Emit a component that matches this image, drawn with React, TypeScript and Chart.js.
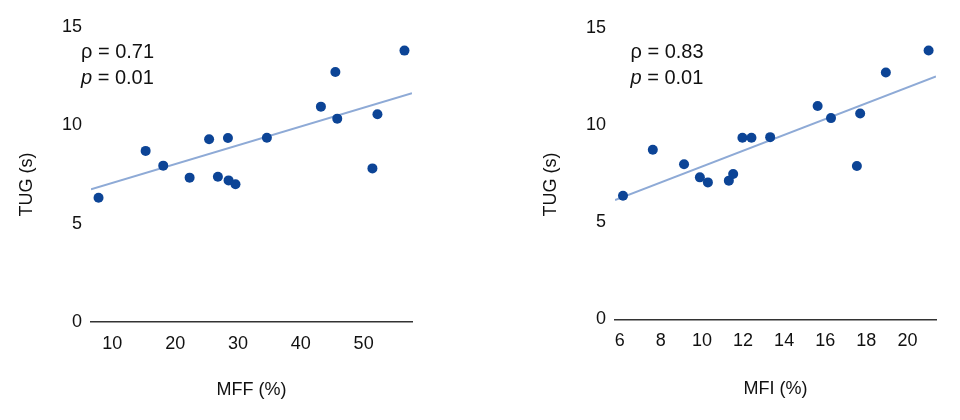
import { useEffect, useRef } from 'react'
import { Chart, registerables } from 'chart.js'

Chart.register(...registerables)

const FONT = "'Liberation Sans', Arial, sans-serif"
const DOT = '#0c4496'
const FIT = '#8eaad6'
const INK = '#111111'

// shared y axis
const TUG_TICKS = [0, 5, 10, 15]
const Y_TITLE = 'TUG (s)'

// left panel: MFF
const MFF = [7.8, 15.3, 18.1, 22.3, 25.4, 26.8, 28.4, 28.5, 29.6, 34.6, 43.2, 45.5, 45.8, 51.4, 52.2, 56.5]
const TUG_MFF = [6.32, 8.7, 7.95, 7.34, 9.29, 7.39, 9.36, 7.2, 7.0, 9.37, 10.95, 12.71, 10.34, 7.81, 10.56, 13.8]
const MFF_FIT_X = [6.6, 57.7]
const MFF_FIT_Y = [6.75, 11.63]
const MFF_TICKS = [10, 20, 30, 40, 50]

// right panel: MFI
const MFI = [6.16, 7.61, 9.13, 9.9, 10.29, 11.31, 11.52, 11.97, 12.41, 13.32, 15.63, 16.28, 17.54, 17.7, 18.95, 21.03]
const TUG_MFI = [6.36, 8.73, 7.98, 7.31, 7.05, 7.14, 7.48, 9.35, 9.35, 9.38, 10.98, 10.36, 7.89, 10.6, 12.71, 13.84]
const MFI_FIT_X = [5.77, 21.39]
const MFI_FIT_Y = [6.14, 12.5]
const MFI_TICKS = [6, 8, 10, 12, 14, 16, 18, 20]

// draws the rho / p annotation and the rotated y title
const statsPlugin = {
  id: 'stats',
  afterDraw(chart: any, _args: any, opts: any) {
    const ctx = chart.ctx
    ctx.save()
    ctx.fillStyle = INK
    ctx.textBaseline = 'alphabetic'
    ctx.textAlign = 'left'
    ctx.font = `20px ${FONT}`
    ctx.fillText(`ρ = ${opts.rho}`, opts.x, opts.y1)
    ctx.font = `italic 20px ${FONT}`
    ctx.fillText('p', opts.x, opts.y2)
    const w = ctx.measureText('p').width
    ctx.font = `20px ${FONT}`
    ctx.fillText(` = ${opts.p}`, opts.x + w, opts.y2)

    // y axis title, sits a bit below the middle of the plot
    ctx.translate(27, 184.5)
    ctx.rotate(-Math.PI / 2)
    ctx.textAlign = 'center'
    ctx.textBaseline = 'middle'
    ctx.font = `18px ${FONT}`
    ctx.fillText(Y_TITLE, 0, 0)
    ctx.restore()
  },
}

interface PanelProps {
  xs: number[]
  ys: number[]
  fitX: number[]
  fitY: number[]
  xTicks: number[]
  xMin: number
  xMax: number
  xTitle: string
  rho: string
  p: string
  left: number
  top: number
  xAxisHeight: number
  titlePad: number
  statsX: number
}

function ScatterPanel(props: PanelProps) {
  const chartRef = useRef<HTMLCanvasElement>(null)
  const chartInstance = useRef<Chart | null>(null)

  useEffect(() => {
    if (!chartRef.current) return
    if (chartInstance.current) chartInstance.current.destroy()

    const tickFont = { family: FONT, size: 18 }
    const titleFont = { family: FONT, size: 18 }

    chartInstance.current = new Chart(chartRef.current, {
      type: 'scatter',
      data: {
        datasets: [
          {
            data: props.xs.map((x, i) => ({ x, y: props.ys[i] })),
            backgroundColor: DOT,
            borderWidth: 0,
            pointRadius: 5,
            order: 1,
          },
          {
            data: props.fitX.map((x, i) => ({ x, y: props.fitY[i] })),
            showLine: true,
            borderColor: FIT,
            borderWidth: 2,
            pointRadius: 0,
            order: 2,
          },
        ],
      },
      options: {
        animation: false,
        responsive: true,
        maintainAspectRatio: false,
        layout: { padding: { top: props.top, right: 24, left: 0, bottom: 0 } },
        plugins: {
          legend: { display: false },
          tooltip: { enabled: false },
          // @ts-ignore
          stats: { rho: props.rho, p: props.p, x: props.statsX, y1: 58, y2: 84 },
        },
        scales: {
          x: {
            type: 'linear',
            min: props.xMin,
            max: props.xMax,
            afterBuildTicks: (axis: any) => {
              axis.ticks = props.xTicks.map(value => ({ value }))
            },
            afterFit: (axis: any) => {
              axis.height = props.xAxisHeight
            },
            grid: { display: false, drawTicks: false },
            border: { display: true, color: '#333333', width: 1.5 },
            ticks: { padding: 11, color: INK, font: tickFont, maxRotation: 0 },
            title: {
              display: true,
              text: props.xTitle,
              color: INK,
              font: titleFont,
              padding: { top: 0, bottom: props.titlePad },
            },
          },
          y: {
            type: 'linear',
            min: 0,
            max: 15,
            afterBuildTicks: (axis: any) => {
              axis.ticks = TUG_TICKS.map(value => ({ value }))
            },
            afterFit: (axis: any) => {
              axis.width = 91
            },
            grid: { display: false, drawTicks: false },
            border: { display: false },
            ticks: { padding: 9, color: INK, font: tickFont },
            title: { display: false },
          },
        },
      },
      plugins: [statsPlugin],
    })

    return () => {
      if (chartInstance.current) {
        chartInstance.current.destroy()
        chartInstance.current = null
      }
    }
  }, [])

  return (
    <div style={{ position: 'fixed', left: props.left, top: 0, width: 436, height: 420 }}>
      <canvas ref={chartRef} />
    </div>
  )
}

export default function App() {
  return (
    <div style={{ position: 'fixed', inset: 0, width: 960, height: 420, background: '#ffffff' }}>
      <ScatterPanel
        xs={MFF}
        ys={TUG_MFF}
        fitX={MFF_FIT_X}
        fitY={MFF_FIT_Y}
        xTicks={MFF_TICKS}
        xMin={6.6}
        xMax={57.7}
        xTitle="MFF (%)"
        rho="0.71"
        p="0.01"
        left={0}
        top={27}
        xAxisHeight={98}
        titlePad={19.2}
        statsX={81}
      />
      <ScatterPanel
        xs={MFI}
        ys={TUG_MFI}
        fitX={MFI_FIT_X}
        fitY={MFI_FIT_Y}
        xTicks={MFI_TICKS}
        xMin={5.77}
        xMax={21.39}
        xTitle="MFI (%)"
        rho="0.83"
        p="0.01"
        left={524}
        top={28}
        xAxisHeight={100.7}
        titlePad={20.2}
        statsX={106.5}
      />
    </div>
  )
}
